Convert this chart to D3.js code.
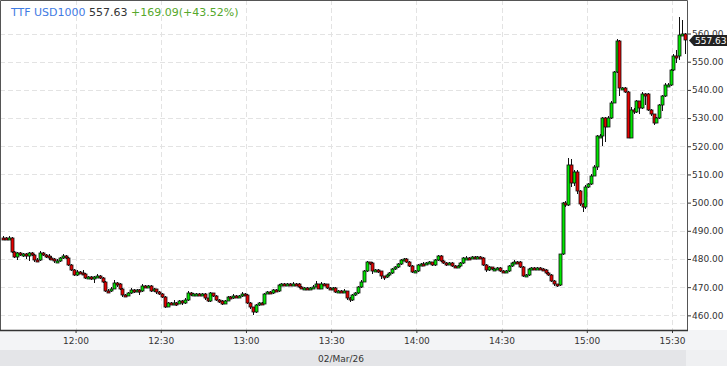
<!DOCTYPE html>
<html>
<head>
<meta charset="utf-8">
<script src="https://cdn.jsdelivr.net/npm/d3@7"></script>
<style>
body { margin: 0; background: #fff; }
svg { display: block; font-family: "DejaVu Sans", sans-serif; }
</style>
</head>
<body>
<script>
// 1-minute bars, TTF USD1000, 02/Mar/26, first bar 11:34
var firstBar = new Date(2026, 2, 2, 11, 34);
var opens = [
  487.6,487.4,487.2,487.6,482.4,480.8,482.0,481.3,481.6,480.9,
  482.0,481.5,479.8,479.6,482.3,481.5,481.2,480.3,480.0,479.2,
  479.3,480.2,481.0,480.3,478.0,476.2,474.3,475.5,475.1,474.6,
  473.2,473.5,472.8,473.6,473.8,473.2,472.0,468.8,468.6,469.5,
  471.5,471.2,469.5,467.3,467.0,467.8,469.0,468.7,468.9,468.6,
  470.3,470.0,470.3,468.6,469.2,468.2,467.6,466.6,463.0,464.3,
  464.0,464.5,464.2,465.0,464.4,465.5,468.0,467.2,467.4,467.6,
  467.3,467.5,466.0,465.1,467.8,466.8,465.5,465.0,464.2,465.2,
  466.5,466.2,467.0,466.5,466.8,467.6,467.2,464.5,462.8,461.3,
  463.5,464.4,464.2,467.7,468.2,467.8,469.0,468.6,470.6,471.1,
  471.0,471.2,471.0,471.3,471.1,470.0,469.6,469.8,469.6,469.7,
  470.2,471.0,469.5,471.3,471.0,469.8,469.6,469.8,468.4,468.6,
  468.3,468.5,466.0,465.6,467.2,468.0,470.0,472.0,475.8,478.8,
  478.5,475.8,476.0,475.6,473.8,473.5,474.2,475.0,476.5,477.2,
  478.2,479.6,479.9,479.0,477.5,475.5,475.6,477.8,478.3,478.0,
  478.5,478.8,477.9,479.5,481.0,479.2,478.5,478.0,478.7,477.6,
  477.2,477.4,478.4,480.3,480.5,480.4,480.6,480.5,480.6,480.4,
  477.8,476.2,477.0,476.4,476.5,476.7,475.9,475.6,475.8,477.5,
  478.5,479.1,479.0,477.3,474.0,474.2,476.5,476.8,476.6,476.9,
  476.6,476.2,475.2,474.2,472.2,471.0,470.6,481.6,500.0,499.2,
  513.2,507.0,510.8,504.0,499.4,498.6,505.7,506.5,509.6,512.8,
  523.5,523.7,529.9,527.0,530.2,535.5,546.2,557.5,540.5,540.6,
  539.4,523.1,533.0,532.0,535.9,533.5,538.7,538.6,533.0,531.3,
  528.4,530.0,534.5,537.7,541.6,541.8,546.9,552.2,552.0,559.6,
  559.8];
var highs = [
  488.0,487.8,488.1,487.9,482.8,482.6,482.4,482.1,482.0,482.5,
  482.4,481.9,480.4,482.8,482.6,481.9,481.6,481.2,480.4,480.0,
  480.6,481.7,481.4,480.6,478.3,476.5,476.2,475.8,476.0,474.9,
  474.0,473.8,474.0,474.5,474.2,473.5,472.3,469.2,469.9,472.4,
  471.8,471.5,469.8,467.6,468.2,469.8,469.3,469.3,469.2,471.0,
  470.6,470.8,470.6,469.6,469.5,468.5,467.9,466.9,464.7,464.6,
  465.3,464.8,465.6,465.3,466.0,468.6,468.3,467.8,468.0,467.9,
  468.1,467.8,466.3,468.3,468.1,467.1,465.8,465.3,465.6,466.9,
  467.0,467.4,467.3,467.2,468.4,467.9,467.5,464.8,463.1,463.9,
  464.8,464.8,468.1,468.6,468.5,469.4,469.3,471.0,471.6,471.5,
  471.6,471.5,471.7,471.6,471.4,470.3,470.2,470.1,470.0,470.6,
  472.2,471.3,471.7,471.6,471.3,470.1,470.2,470.0,469.0,468.9,
  469.4,468.8,466.4,467.6,468.4,470.3,472.4,476.2,479.2,479.1,
  478.8,476.4,476.3,475.9,474.1,474.6,475.4,476.9,477.6,478.6,
  480.0,480.4,480.2,479.3,477.8,476.0,478.2,478.7,478.8,478.9,
  479.3,479.1,479.9,481.5,481.3,479.5,478.8,479.1,479.0,477.9,
  477.8,478.8,480.8,480.9,480.8,481.0,480.9,481.2,480.9,480.7,
  478.1,477.4,477.3,476.9,477.1,477.0,476.2,476.2,477.9,478.9,
  479.6,479.4,479.3,477.6,474.6,476.9,477.2,477.1,477.3,477.2,
  476.9,476.5,475.5,474.5,472.5,471.3,481.9,500.3,500.4,516.0,
  515.5,511.5,511.5,504.4,500.0,506.2,507.0,510.1,513.5,524.0,
  524.2,530.4,530.3,530.8,536.0,546.6,558.0,557.8,541.0,541.0,
  539.7,533.8,533.4,536.3,536.2,539.1,539.0,538.9,533.3,531.6,
  530.4,534.9,538.1,542.4,542.5,547.3,552.6,554.3,566.0,564.8,
  560.2];
var lows = [
  487.0,486.8,486.9,482.0,480.2,479.6,480.9,480.8,480.0,479.4,
  481.0,479.0,478.8,479.2,481.1,480.5,479.7,479.6,478.6,478.8,
  479.0,479.9,480.0,477.6,475.8,473.9,474.0,474.7,474.2,472.8,
  472.9,472.4,471.4,473.3,472.8,471.6,468.4,468.2,468.3,469.2,
  470.0,469.1,466.6,466.5,466.8,467.5,468.0,468.4,467.2,468.3,
  469.6,469.7,468.2,468.3,467.4,467.2,466.2,462.6,462.8,463.6,
  463.7,463.2,463.9,463.8,464.1,465.2,466.8,466.9,467.1,466.9,
  467.0,465.6,464.8,464.9,466.4,465.1,464.3,463.6,463.9,465.0,
  465.9,465.9,466.1,466.0,466.6,466.8,464.1,462.3,460.3,461.0,
  463.2,463.8,464.0,467.4,467.4,467.6,468.2,468.4,470.4,470.7,
  470.8,470.6,470.8,470.8,469.6,469.3,469.2,469.3,468.9,469.4,
  470.0,469.2,469.3,470.6,469.4,469.2,469.3,468.0,468.1,467.9,
  468.0,465.6,464.6,465.2,466.9,467.7,469.7,471.7,475.5,477.8,
  474.6,475.5,475.2,473.0,472.7,473.2,473.9,474.7,476.2,476.9,
  477.9,479.3,478.6,477.1,475.0,475.1,475.3,477.5,477.6,477.7,
  478.2,477.5,477.6,479.2,478.8,478.1,477.6,477.7,477.2,476.8,
  476.9,477.1,478.1,480.0,480.0,480.1,480.1,480.2,480.0,477.4,
  475.3,475.9,476.0,476.1,476.2,475.5,475.2,475.3,475.5,477.2,
  478.2,478.6,476.9,473.6,473.7,473.9,476.2,476.2,476.3,476.2,
  475.8,474.8,473.8,471.8,470.3,470.2,470.3,481.3,498.6,498.8,
  505.5,506.0,503.0,498.8,496.5,497.8,505.2,506.2,509.3,511.5,
  523.0,520.0,521.5,526.7,529.8,535.2,546.0,538.0,540.1,539.0,
  522.8,522.8,531.6,531.7,531.5,533.2,534.8,532.6,530.9,527.5,
  528.1,529.7,532.6,537.4,541.2,541.5,546.6,549.7,550.5,559.3,
  552.6];
var closes = [
  487.4,487.2,487.6,482.4,480.8,482.0,481.3,481.6,480.9,482.0,
  481.5,479.8,479.6,482.3,481.5,481.2,480.3,480.0,479.2,479.3,
  480.2,481.0,480.3,478.0,476.2,474.3,475.5,475.1,474.6,473.2,
  473.5,472.8,473.6,473.8,473.2,472.0,468.8,468.6,469.5,471.5,
  471.2,469.5,467.3,467.0,467.8,469.0,468.7,468.9,468.6,470.3,
  470.0,470.3,468.6,469.2,468.2,467.6,466.6,463.0,464.3,464.0,
  464.5,464.2,465.0,464.4,465.5,468.0,467.2,467.4,467.6,467.3,
  467.5,466.0,465.1,467.8,466.8,465.5,465.0,464.2,465.2,466.5,
  466.2,467.0,466.5,466.8,467.6,467.2,464.5,462.8,461.3,463.5,
  464.4,464.2,467.7,468.2,467.8,469.0,468.6,470.6,471.1,471.0,
  471.2,471.0,471.3,471.1,470.0,469.6,469.8,469.6,469.7,470.2,
  471.0,469.5,471.3,471.0,469.8,469.6,469.8,468.4,468.6,468.3,
  468.5,466.0,465.6,467.2,468.0,470.0,472.0,475.8,478.8,478.5,
  475.8,476.0,475.6,473.8,473.5,474.2,475.0,476.5,477.2,478.2,
  479.6,479.9,479.0,477.5,475.5,475.6,477.8,478.3,478.0,478.5,
  478.8,477.9,479.5,481.0,479.2,478.5,478.0,478.7,477.6,477.2,
  477.4,478.4,480.3,480.5,480.4,480.6,480.5,480.6,480.4,477.8,
  476.2,477.0,476.4,476.5,476.7,475.9,475.6,475.8,477.5,478.5,
  479.1,479.0,477.3,474.0,474.2,476.5,476.8,476.6,476.9,476.6,
  476.2,475.2,474.2,472.2,471.0,470.6,481.6,500.0,499.2,513.2,
  507.0,510.8,504.0,499.4,498.6,505.7,506.5,509.6,512.8,523.5,
  523.7,529.9,527.0,530.2,535.5,546.2,557.5,540.5,540.6,539.4,
  523.1,533.0,532.0,535.9,533.5,538.7,538.6,533.0,531.3,528.4,
  530.0,534.5,537.7,541.6,541.8,546.9,552.2,552.0,559.6,559.8,
  557.63];

var yTicks = [460, 470, 480, 490, 500, 510, 520, 530, 540, 550, 560];
var xTickLabels = ["12:00", "12:30", "13:00", "13:30", "14:00", "14:30", "15:00", "15:30"];
var dateLabel = "02/Mar/26";
var symbol = "TTF USD1000", lastPrice = "557.63", change = "+169.09(+43.52%)";

var W = 727, H = 366, plotW = 687, plotH = 330;
var parseHM = d3.timeParse("%Y-%m-%d %H:%M");
var xTicks = xTickLabels.map(s => parseHM("2026-03-02 " + s));

var bars = closes.map((c, i) => ({
  t: d3.timeMinute.offset(firstBar, i),
  o: opens[i], h: highs[i], l: lows[i], c: c
}));

var x = d3.scaleTime()
  .domain([new Date(2026, 2, 2, 11, 33, 24), new Date(2026, 2, 2, 15, 35, 17)])
  .range([0, plotW]);
var y = d3.scaleLinear().domain([454.8, 571.9]).range([plotH, 0]);

var svg = d3.select("body").append("svg")
  .attr("width", W).attr("height", H);

// bottom bands
svg.append("rect").attr("x", 0).attr("y", plotH).attr("width", W).attr("height", 20).attr("fill", "#f3f4f6");
svg.append("rect").attr("x", 0).attr("y", 350).attr("width", 686).attr("height", 16).attr("fill", "#e4e5e8");
svg.append("rect").attr("x", 686).attr("y", 350).attr("width", W - 686).attr("height", 16).attr("fill", "#eff0f2");

// grid
var grid = svg.append("g").attr("stroke", "#e3e3e3").attr("stroke-dasharray", "5,3");
grid.selectAll(".hg").data(yTicks).enter().append("line")
  .attr("x1", 0).attr("x2", plotW)
  .attr("y1", d => Math.round(y(d)) + 0.5).attr("y2", d => Math.round(y(d)) + 0.5);
grid.selectAll(".vg").data(xTicks).enter().append("line")
  .attr("y1", 0).attr("y2", plotH)
  .attr("x1", d => Math.round(x(d)) + 0.5).attr("x2", d => Math.round(x(d)) + 0.5);

// candles
var half = 30 * 1000;
var cx = d => Math.round(x(new Date(+d.t + half)));
var bodyTop = d => Math.round(y(Math.max(d.o, d.c)));
var bodyBot = d => Math.max(Math.round(y(Math.min(d.o, d.c))), bodyTop(d) + 2);
var candle = svg.append("g").selectAll("g").data(bars).enter().append("g");
candle.append("line")
  .attr("x1", d => cx(d) + 0.5).attr("x2", d => cx(d) + 0.5)
  .attr("y1", d => Math.round(y(d.h))).attr("y2", d => Math.round(y(d.l)))
  .attr("stroke", "#111");
candle.append("rect")
  .attr("x", d => cx(d) - 1)
  .attr("y", d => bodyTop(d))
  .attr("width", 3)
  .attr("height", d => bodyBot(d) - bodyTop(d))
  .attr("fill", d => d.c >= d.o ? "#00e600" : "#e60000")
  .attr("stroke", "#111")
  .attr("stroke-width", 0.8);

// axes
var yAxis = svg.append("g").attr("transform", `translate(${plotW},0)`)
  .call(d3.axisRight(y).tickValues(yTicks).tickSize(4).tickPadding(1).tickFormat(d3.format(".2f")));
var xAxis = svg.append("g").attr("transform", `translate(0,${plotH})`)
  .call(d3.axisBottom(x).tickValues(xTicks).tickSize(3).tickPadding(5).tickFormat(d3.timeFormat("%H:%M")));
[yAxis, xAxis].forEach(a => {
  a.select(".domain").remove();
  a.selectAll("line").attr("stroke", "#333");
  a.selectAll("text").attr("fill", "#333").style("font-size", "9px").style("font-family", "DejaVu Sans");
});

// frame
svg.append("path")
  .attr("d", `M0.5,${plotH}V0.5H${plotW + 0.5}V${plotH}`)
  .attr("fill", "none").attr("stroke", "#555");
svg.append("line").attr("x1", 0).attr("x2", plotW + 1).attr("y1", plotH + 0.5).attr("y2", plotH + 0.5)
  .attr("stroke", "#333").attr("stroke-width", 1.5);

// last price marker (sits over the top tick label, as in the source chart)
var ly = Math.round(y(closes[closes.length - 1])) + 0.5;
svg.append("path")
  .attr("d", `M${plotW + 2},${ly}L${plotW + 7},${ly - 5.5}H${W}V${ly + 5.5}H${plotW + 7}Z`)
  .attr("fill", "#222");
svg.append("text").attr("x", plotW + 8).attr("y", ly + 3.5)
  .attr("fill", "#fff").style("font-size", "9px").text(lastPrice);

// date
svg.append("text").attr("x", 341).attr("y", 362).attr("text-anchor", "middle")
  .attr("fill", "#333").style("font-size", "9px").text(dateLabel);

// title
var title = svg.append("text").attr("x", 11).attr("y", 16).style("font-size", "11px");
title.append("tspan").attr("fill", "#3f7be3").text(symbol + " ");
title.append("tspan").attr("fill", "#333").text(lastPrice + " ");
title.append("tspan").attr("fill", "#56a82c").text(change);
</script>
</body>
</html>
